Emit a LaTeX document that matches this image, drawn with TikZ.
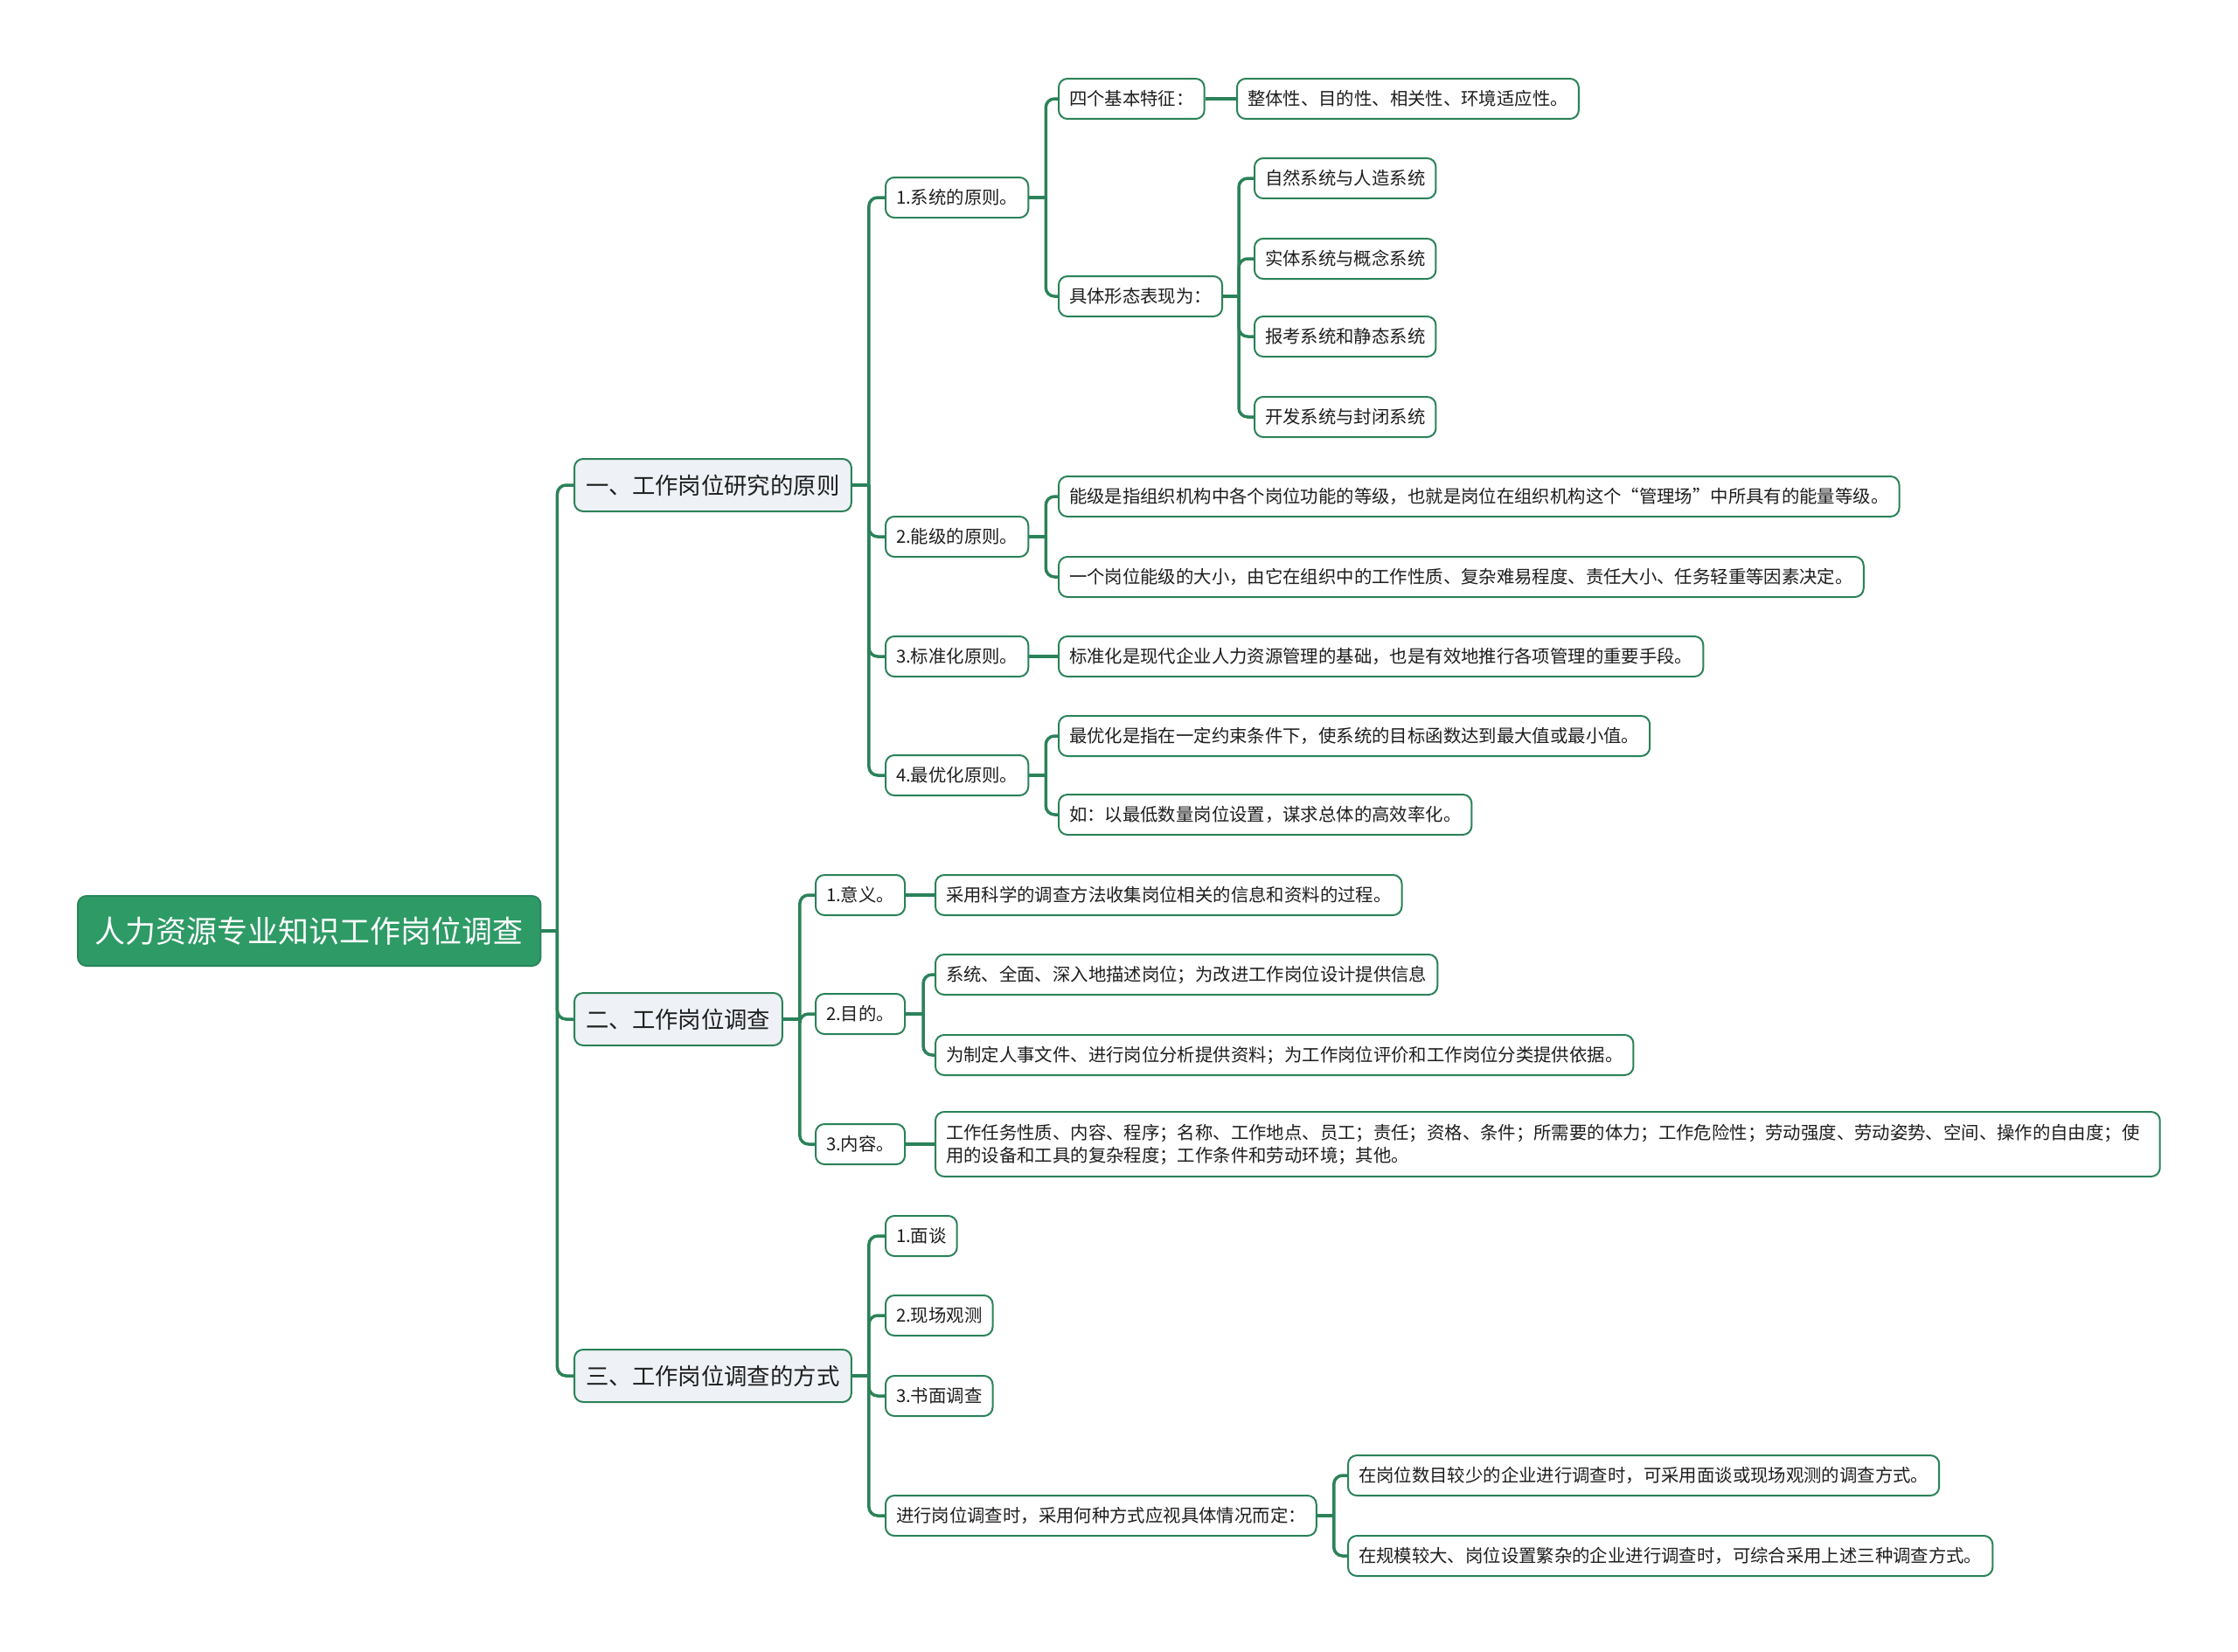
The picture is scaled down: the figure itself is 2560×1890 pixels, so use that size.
\documentclass[tikz,border=0pt]{standalone}
\usepackage{fontspec}
\setmainfont{Noto Sans CJK SC}
\usetikzlibrary{positioning}
\definecolor{lineGrn}{HTML}{2B8259}
\definecolor{rootFill}{HTML}{2E9A66}
\definecolor{rootDraw}{HTML}{28875B}
\definecolor{secFill}{HTML}{EEF1F5}
\definecolor{txtDark}{HTML}{1E1E1E}

\begin{document}
\begin{tikzpicture}[x=0.02cm, y=-0.02cm,
  root/.style={draw=rootDraw, fill=rootFill, line width=0.04cm, rounded corners=0.2cm, inner xsep=0.4cm, minimum height=1.6cm, font=\fontsize{19.9}{24}\selectfont, text=white, anchor=west},
  sec/.style={draw=lineGrn, fill=secFill, line width=0.04cm, rounded corners=0.2cm, inner xsep=0.27cm, minimum height=1.2cm, font=\fontsize{15}{18}\selectfont, text=txtDark, anchor=west},
  leaf/.style={draw=lineGrn, fill=white, line width=0.04cm, rounded corners=0.2cm, inner xsep=0.24cm, minimum height=0.92cm, font=\fontsize{11.6}{14.8}\selectfont, text=txtDark, anchor=west},
  link/.style={draw=lineGrn, line width=0.07cm, rounded corners=0.2cm}]
\useasboundingbox[fill=white] (0,0) rectangle (2560,1890);

\node[root] (root) at (88,1065) {人力资源专业知识工作岗位调查};

\node[sec] (A) at (656,555) {一、工作岗位研究的原则};
\node[sec] (B) at (656,1166) {二、工作岗位调查};
\node[sec] (C) at (656,1574) {三、工作岗位调查的方式};

\node[leaf] (A1) at (1012,226) {1.系统的原则。};
\node[leaf] (A1a) at (1210,113) {四个基本特征：};
\node[leaf] (A1aX) at (1414,113) {整体性、目的性、相关性、环境适应性。};
\node[leaf] (A1b) at (1210,339) {具体形态表现为：};
\node[leaf] (F1) at (1434,204) {自然系统与人造系统};
\node[leaf] (F2) at (1434,296) {实体系统与概念系统};
\node[leaf] (F3) at (1434,385) {报考系统和静态系统};
\node[leaf] (F4) at (1434,477) {开发系统与封闭系统};
\node[leaf] (A2) at (1012,614) {2.能级的原则。};
\node[leaf] (A2a) at (1210,568) {能级是指组织机构中各个岗位功能的等级，也就是岗位在组织机构这个“管理场”中所具有的能量等级。};
\node[leaf] (A2b) at (1210,660) {一个岗位能级的大小，由它在组织中的工作性质、复杂难易程度、责任大小、任务轻重等因素决定。};
\node[leaf] (A3) at (1012,751) {3.标准化原则。};
\node[leaf] (A3a) at (1210,751) {标准化是现代企业人力资源管理的基础，也是有效地推行各项管理的重要手段。};
\node[leaf] (A4) at (1012,887) {4.最优化原则。};
\node[leaf] (A4a) at (1210,842) {最优化是指在一定约束条件下，使系统的目标函数达到最大值或最小值。};
\node[leaf] (A4b) at (1210,932) {如：以最低数量岗位设置，谋求总体的高效率化。};

\node[leaf] (B1) at (932,1024) {1.意义。};
\node[leaf] (B1a) at (1069,1024) {采用科学的调查方法收集岗位相关的信息和资料的过程。};
\node[leaf] (B2) at (932,1160) {2.目的。};
\node[leaf] (B2a) at (1069,1115) {系统、全面、深入地描述岗位；为改进工作岗位设计提供信息};
\node[leaf] (B2b) at (1069,1207) {为制定人事文件、进行岗位分析提供资料；为工作岗位评价和工作岗位分类提供依据。};
\node[leaf] (B3) at (932,1309) {3.内容。};
\node[leaf, align=left, text width=27.54cm, minimum height=1.48cm] (B3a) at (1069,1309) {工作任务性质、内容、程序；名称、工作地点、员工；责任；资格、条件；所需要的体力；工作危险性；劳动强度、劳动姿势、空间、操作的自由度；使\\用的设备和工具的复杂程度；工作条件和劳动环境；其他。};

\node[leaf] (C1) at (1012,1414) {1.面谈};
\node[leaf] (C2) at (1012,1505) {2.现场观测};
\node[leaf] (C3) at (1012,1597) {3.书面调查};
\node[leaf] (C4) at (1012,1734) {进行岗位调查时，采用何种方式应视具体情况而定：};
\node[leaf] (C4a) at (1541,1688) {在岗位数目较少的企业进行调查时，可采用面谈或现场观测的调查方式。};
\node[leaf] (C4b) at (1541,1780) {在规模较大、岗位设置繁杂的企业进行调查时，可综合采用上述三种调查方式。};

\draw[link] (root.east) -- ++(18,0) coordinate (bRoot);
\foreach \c in {A,B,C} \draw[link] (bRoot) |- (\c.west);
\draw[link] (A.east) -- ++(19,0) coordinate (bA);
\foreach \c in {A1,A2,A3,A4} \draw[link] (bA) |- (\c.west);
\draw[link] (A1.east) -- ++(19,0) coordinate (bA1);
\foreach \c in {A1a,A1b} \draw[link] (bA1) |- (\c.west);
\draw[link] (A1a.east) -- (A1aX.west);
\draw[link] (A1b.east) -- ++(18,0) coordinate (bA1b);
\foreach \c in {F1,F2,F3,F4} \draw[link] (bA1b) |- (\c.west);
\draw[link] (A2.east) -- ++(19,0) coordinate (bA2);
\foreach \c in {A2a,A2b} \draw[link] (bA2) |- (\c.west);
\draw[link] (A3.east) -- (A3a.west);
\draw[link] (A4.east) -- ++(19,0) coordinate (bA4);
\foreach \c in {A4a,A4b} \draw[link] (bA4) |- (\c.west);

\draw[link] (B.east) -- ++(19,0) coordinate (bB);
\foreach \c in {B1,B2,B3} \draw[link] (bB) |- (\c.west);
\draw[link] (B1.east) -- (B1a.west);
\draw[link] (B2.east) -- ++(20,0) coordinate (bB2);
\foreach \c in {B2a,B2b} \draw[link] (bB2) |- (\c.west);
\draw[link] (B3.east) -- (B3a.west);

\draw[link] (C.east) -- ++(19,0) coordinate (bC);
\foreach \c in {C1,C2,C3,C4} \draw[link] (bC) |- (\c.west);
\draw[link] (C4.east) -- ++(19,0) coordinate (bC4);
\foreach \c in {C4a,C4b} \draw[link] (bC4) |- (\c.west);
\end{tikzpicture}
\end{document}
